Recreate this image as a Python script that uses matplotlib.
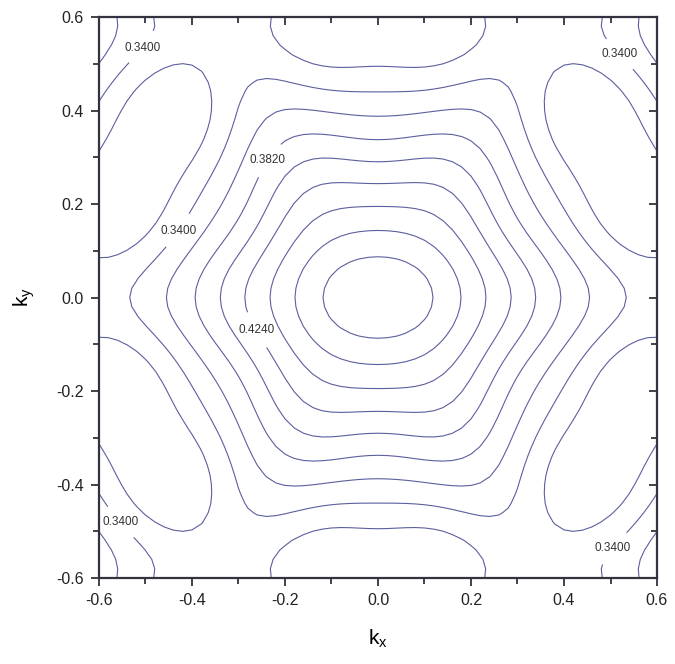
import numpy as np
import matplotlib
matplotlib.use("Agg")
import matplotlib.pyplot as plt
from matplotlib.ticker import MultipleLocator

plt.rcParams['font.family'] = ['Liberation Sans', 'DejaVu Sans']
plt.rcParams['mathtext.default'] = 'regular'
plt.rcParams['axes.unicode_minus'] = False

# contour levels
levels = [0.319, 0.340, 0.361, 0.382, 0.403, 0.424, 0.445, 0.466, 0.487]
labelled = [0.340, 0.382, 0.424]

# hexagonal contours: level, crossing on ky axis (flat side), crossing on kx axis (corner)
hex_level = [0.487, 0.466, 0.445, 0.424, 0.403, 0.382, 0.361, 0.340]
hex_ky = [0.083, 0.141, 0.193, 0.246, 0.293, 0.340, 0.390, 0.440]
hex_kx = [0.130, 0.183, 0.240, 0.290, 0.350, 0.410, 0.465, 0.540]

# pocket around M: level, half-length along zone edge, half-width towards Gamma
pocket_level = 0.319
pocket_len = 0.24
pocket_wid = 0.095

m_gm = 0.585      # Gamma-M distance
e_gamma = 0.505   # value at Gamma
e_m = 0.300       # value at M
e_k = 0.330       # value at K
e_edge = 0.326    # on the zone edge, 0.30 from M

# stretch of the inner contours along kx
stretch0 = 1.5
stretch_w = 0.2


def stretch(kx, ky):
    return 1 + (stretch0 - 1) * np.exp(-(kx ** 2 + ky ** 2) / stretch_w ** 2)


# hexagonal lattice, shells of lattice vectors
a = 2 * np.pi / (np.sqrt(3) * m_gm)
a1 = np.array([a, 0.0])
a2 = np.array([a / 2, a * np.sqrt(3) / 2])
nn = np.arange(-7, 8)
R = np.array([i * a1 + j * a2 for i in nn for j in nn])
r2 = np.round((R ** 2).sum(1) / a ** 2).astype(int)
shells = [1, 3, 4, 7, 9, 12, 13, 16, 19, 21]


def basis(kx, ky):
    kx = np.asarray(kx, float)
    ky = np.asarray(ky, float)
    cols = [np.ones_like(kx)]
    for s in shells:
        Rs = R[r2 == s]
        ph = np.multiply.outer(kx, Rs[:, 0]) + np.multiply.outer(ky, Rs[:, 1])
        cols.append(np.cos(ph).sum(-1) / len(Rs))
    return np.stack(cols, -1)


# fit points
px, py, pv, pw = [], [], [], []
th = np.radians(np.arange(0, 90.1, 5))
phi = np.radians(np.degrees(th) % 60 - 30)
for lv, d, v in zip(hex_level, hex_ky, hex_kx):
    v = v / stretch(v, 0.0)
    q = np.log(v / d) / np.log(1 / np.cos(np.radians(30)))
    r = d / np.cos(phi) ** q
    px += list(r * np.cos(th)); py += list(r * np.sin(th))
    pv += [lv] * len(th); pw += [1.0] * len(th)
t = np.linspace(0, np.pi, 13)
px += list(pocket_len * np.cos(t)); py += list(m_gm - pocket_wid * np.sin(t))
pv += [pocket_level] * len(t); pw += [1.0] * len(t)
k_len = m_gm / np.cos(np.radians(30))
px += [0.0, 0.0, k_len, 0.30]
py += [0.0, m_gm, 0.0, m_gm]
pv += [e_gamma, e_m, e_k, e_edge]
pw += [0.5, 2.0, 2.0, 1.0]

A = basis(px, py) * np.array(pw)[:, None]
b = np.array(pv) * np.array(pw)
pen = np.diag([0.0] + [1e-6 * s ** 2 for s in shells])
coef = np.linalg.solve(A.T @ A + pen, A.T @ b)

kx = np.linspace(-0.6, 0.6, 61)
ky = np.linspace(-0.6, 0.6, 61)
KX, KY = np.meshgrid(kx, ky)
E = basis(KX / stretch(KX, KY), KY) @ coef

fig = plt.figure(figsize=(6.75, 6.64), dpi=100)
ax = fig.add_axes([99 / 675, 86 / 664, 558 / 675, 561 / 664])

line_col = '#5c5f9e'
axis_col = '#33333f'
plain = [lv for lv in levels if lv not in labelled]
ax.contour(KX, KY, E, levels=plain, colors=line_col, linewidths=0.8)
cs = ax.contour(KX, KY, E, levels=labelled, colors=line_col, linewidths=0.8)

# label spots
lab_pos = [(-0.44, 0.15), (-0.49, 0.52), (0.50, 0.50), (-0.53, -0.46), (0.50, -0.53),
           (-0.26, 0.31), (-0.27, -0.075)]
txts = ax.clabel(cs, manual=lab_pos, fmt='%.4f',
                 fontsize=8.5, inline=True, inline_spacing=2)
for t in txts:
    t.set_rotation(0)
    t.set_color('#333333')

ax.set_xlim(-0.6, 0.6)
ax.set_ylim(-0.6, 0.6)
ticks = np.arange(-0.6, 0.61, 0.2)
ax.set_xticks(ticks)
ax.set_yticks(ticks)
ax.set_xticklabels(['%.1f' % t for t in ticks])
ax.set_yticklabels(['%.1f' % t for t in ticks])
ax.xaxis.set_minor_locator(MultipleLocator(0.1))
ax.yaxis.set_minor_locator(MultipleLocator(0.1))
ax.tick_params(which='both', direction='out', width=1.3, color=axis_col,
               labelsize=11.5, labelcolor='#222222', top=False, right=False)
ax.tick_params(which='major', length=6, pad=5)
ax.tick_params(which='minor', length=4)
for sp in ax.spines.values():
    sp.set_linewidth(1.6)
    sp.set_color(axis_col)

# top and right axes with inward ticks
sx = ax.secondary_xaxis('top')
sy = ax.secondary_yaxis('right')
for sec in (sx, sy):
    sec.set_ticks(ticks)
    sec.tick_params(which='both', direction='in', width=1.3, color=axis_col,
                    labeltop=False, labelright=False)
    sec.tick_params(which='major', length=6)
    sec.tick_params(which='minor', length=4)
    sec.spines[:].set_visible(False)
sx.xaxis.set_minor_locator(MultipleLocator(0.1))
sy.yaxis.set_minor_locator(MultipleLocator(0.1))

ax.set_xlabel('k$_x$', fontsize=15, labelpad=14)
ax.set_ylabel('k$_y$', fontsize=15, labelpad=14)

fig.savefig('out.png', dpi=100, facecolor='white')
